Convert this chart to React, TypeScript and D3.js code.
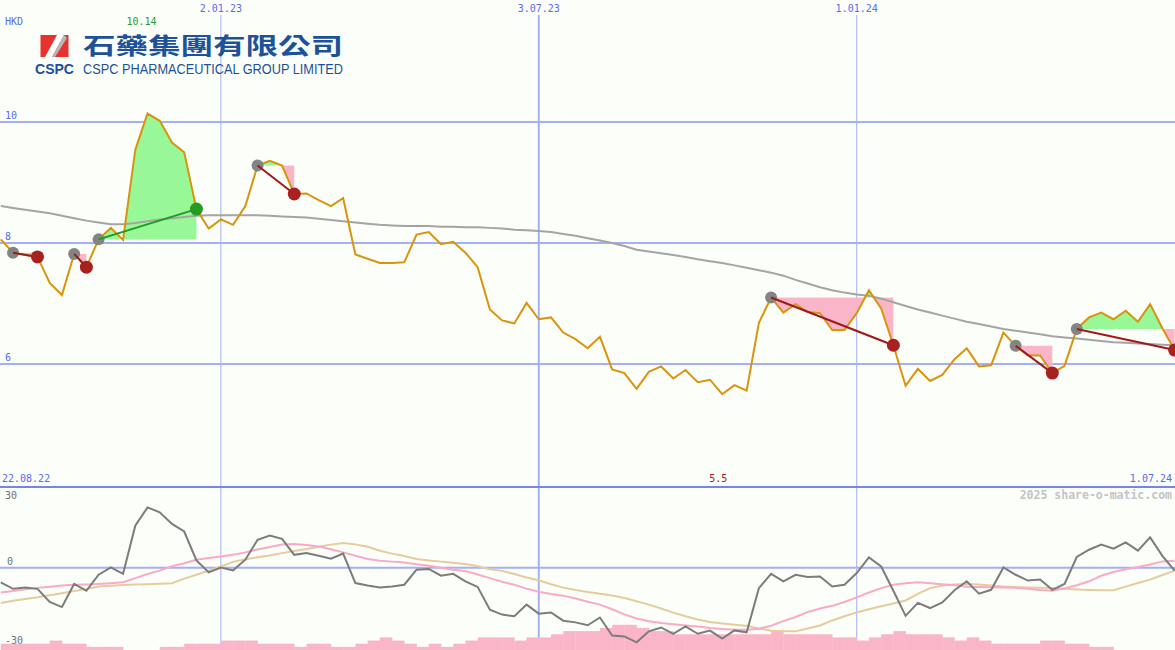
import * as d3 from "d3";

// weekly closes, HKD (29.08.22 .. 1.07.24)
const price = [
  8.06, 7.84, 7.8, 7.77, 7.34, 7.14, 7.82, 7.6, 8.06, 8.25,
  8.05, 9.54, 10.14, 10.02, 9.66, 9.5, 8.56, 8.24, 8.39, 8.3,
  8.61, 9.28, 9.36, 9.28, 8.81, 8.82, 8.71, 8.61, 8.74, 7.81,
  7.74, 7.67, 7.67, 7.68, 8.14, 8.18, 7.98, 8.02, 7.84, 7.6,
  6.9, 6.72, 6.67, 7.01, 6.74, 6.77, 6.52, 6.41, 6.26, 6.45,
  5.91, 5.85, 5.59, 5.87, 5.96, 5.76, 5.9, 5.7, 5.74, 5.5,
  5.65, 5.56, 6.68, 7.1, 6.85, 6.99, 6.86, 6.84, 6.56, 6.56,
  6.84, 7.22, 6.92, 6.31, 5.64, 5.92, 5.72, 5.82, 6.08, 6.26,
  5.96, 5.98, 6.52, 6.3, 6.14, 6.14, 5.85, 5.97, 6.58, 6.77,
  6.85, 6.74, 6.88, 6.7, 6.99, 6.59, 6.23,
];

const movingAvg = [
  8.61, 8.58, 8.55, 8.52, 8.49, 8.45, 8.41, 8.37, 8.34, 8.31,
  8.31, 8.33, 8.36, 8.39, 8.41, 8.43, 8.45, 8.46, 8.46, 8.46,
  8.46, 8.46, 8.45, 8.44, 8.43, 8.42, 8.4, 8.38, 8.36, 8.34,
  8.32, 8.3, 8.29, 8.28, 8.28, 8.28, 8.27, 8.27, 8.26, 8.26,
  8.25, 8.24, 8.22, 8.21, 8.2, 8.18, 8.15, 8.12, 8.08, 8.04,
  8.0, 7.95, 7.89, 7.86, 7.83, 7.8, 7.77, 7.73, 7.7, 7.67,
  7.63, 7.59, 7.55, 7.51, 7.46, 7.39, 7.33, 7.27, 7.22, 7.18,
  7.15, 7.13, 7.08, 7.02, 6.96, 6.9, 6.85, 6.8, 6.75, 6.7,
  6.66, 6.62, 6.58, 6.55, 6.52, 6.49, 6.46, 6.44, 6.42, 6.4,
  6.38, 6.36, 6.35, 6.34, 6.33, 6.32, 6.31,
];

const oscillator = [
  -6.0, -8.7, -8.2, -8.7, -14.1, -16.2, -6.7, -9.5, -2.9, 0.1,
  -2.5, 17.3, 24.8, 22.8, 18.0, 14.9, 3.0, -1.9, 0.1, -1.1,
  3.3, 11.5, 13.2, 11.9, 5.3, 6.0, 4.9, 3.7, 5.8, -6.3,
  -7.3, -8.1, -7.7, -7.0, -0.8, -0.5, -3.3, -2.5, -5.6, -7.9,
  -17.3, -19.3, -20.0, -15.2, -18.9, -18.4, -21.8, -22.5, -23.7, -20.5,
  -27.9, -28.3, -30.7, -26.2, -24.6, -27.2, -24.2, -27.2, -25.9, -29.2,
  -25.8, -26.6, -8.4, -2.5, -5.6, -2.9, -3.8, -3.6, -7.7, -7.0,
  -2.2, 4.2, 0.5, -9.5, -19.8, -14.5, -16.6, -14.3, -9.3, -5.6,
  -10.7, -9.1, 0.1, -2.9, -5.3, -4.9, -9.1, -6.7, 4.4, 7.4,
  9.5, 7.8, 10.4, 7.0, 12.5, 4.9, -1.2,
];

const signalFast = [
  -10.2, -9.6, -8.9, -8.3, -7.8, -7.3, -7.0, -6.9, -6.7, -6.4,
  -6.0, -4.3, -2.6, -1.2, 0.6, 1.8, 3.3, 4.0, 4.6, 5.3,
  6.3, 7.5, 8.5, 9.5, 9.8, 9.3, 8.7, 7.6, 6.3, 4.9,
  3.6, 2.9, 2.5, 2.1, 1.4, 0.8, 0.0, -0.8, -1.4, -2.8,
  -4.3, -5.8, -7.0, -8.6, -9.9, -10.8, -11.5, -12.7, -14.0, -15.2,
  -17.1, -19.2, -20.9, -22.0, -22.8, -23.3, -23.8, -24.2, -24.8, -25.2,
  -25.5, -25.5, -25.1, -23.9, -22.0, -20.3, -18.2, -16.8, -15.7, -14.1,
  -12.2, -10.2, -8.4, -7.0, -6.4, -6.0, -6.4, -6.8, -7.2, -7.8,
  -7.9, -8.0, -8.1, -8.3, -8.7, -9.2, -9.5, -8.5, -7.2, -5.6,
  -3.3, -1.8, -0.6, 0.3, 1.3, 2.6, 2.9,
];

const signalSlow = [
  -14.5, -13.6, -12.9, -12.2, -11.3, -10.5, -9.6, -8.8, -7.7, -7.4,
  -7.1, -6.9, -6.8, -6.6, -6.4, -4.5, -2.9, -1.2, 0.5, 2.4,
  3.5, 4.3, 5.0, 6.0, 6.9, 7.7, 8.6, 9.5, 10.2, 9.6,
  8.6, 7.0, 5.8, 4.8, 3.6, 3.0, 2.5, 2.0, 1.5, 0.6,
  -0.6, -1.3, -2.6, -4.0, -5.2, -6.8, -8.2, -9.2, -10.0, -10.7,
  -11.4, -12.5, -13.8, -15.2, -16.8, -18.5, -20.0, -21.3, -22.3, -23.0,
  -23.5, -23.9, -25.0, -25.9, -26.2, -26.2, -25.0, -23.8, -21.7, -20.0,
  -18.4, -17.1, -15.9, -14.7, -13.5, -10.8, -8.4, -7.3, -6.9, -6.7,
  -6.9, -7.3, -7.7, -7.9, -8.1, -8.3, -8.4, -8.7, -9.0, -9.2,
  -9.3, -9.3, -7.8, -6.3, -4.9, -3.0, -1.2,
];

const volumeLevel = [
  2, 2, 2, 2, 3, 2, 2, 1, 1, 1,
  0, 0, 0, 1, 1, 2, 2, 2, 3, 3,
  3, 2, 2, 2, 1, 2, 2, 1, 1, 2,
  3, 4, 3, 2, 1, 2, 1, 2, 3, 4,
  4, 4, 3, 4, 4, 5, 6, 6, 6, 7,
  8, 8, 7, 6, 6, 5, 5, 5, 5, 5,
  5, 5, 5, 6, 5, 5, 5, 5, 4, 4,
  3, 4, 5, 6, 5, 5, 5, 4, 3, 4,
  3, 2, 2, 2, 2, 3, 3, 2, 2, 1,
  1, 0, 0, 0, 0, 0, 0,
];

// signal trades: entry / exit week index
const tradeEntry = [1, 6, 8, 21, 63, 83, 88];
const tradeExit = [3, 7, 16, 24, 73, 86, 96];

const dateTickIdx = [18, 44, 70];
const dateTickLabels = ["2.01.23", "3.07.23", "1.01.24"];
const priceTicks = [10, 8, 6];
const oscTicks = [30, 0, -30];

const W = 1175;
const H = 650;
const mono = "'DejaVu Sans Mono', monospace";

export default function App() {
  const x = d3.scaleLinear().domain([0, price.length - 1]).range([0.8, 1174.6]);
  const yP = d3.scaleLinear().domain([6, 10]).range([364, 122]);
  const yO = d3.scaleLinear().domain([-30, 30]).range([640.6, 494.8]);
  const yB = d3.scaleLinear().domain([0, 8]).range([H, H - 25.2]);

  const priceLine = d3.line<number>().x((_, i) => x(i)).y((d) => yP(d));
  const oscLine = d3.line<number>().x((_, i) => x(i)).y((d) => yO(d));

  const maxI = d3.maxIndex(price);
  const minI = d3.minIndex(price);
  const step = x(1) - x(0);

  return (
    <svg width={W} height={H} style={{ position: "absolute", left: 0, top: 0, background: "#fcfefa" }}>
      <defs>
        {tradeEntry.map((e, k) => (
          <g key={k}>
            <clipPath id={"up" + k}>
              <rect x={0} y={0} width={W} height={yP(price[e])} />
            </clipPath>
            <clipPath id={"dn" + k}>
              <rect x={0} y={yP(price[e])} width={W} height={H} />
            </clipPath>
          </g>
        ))}
      </defs>
      <rect width={W} height={H} fill="#fcfefa" />

      {/* grid */}
      {priceTicks.map((t) => (
        <g key={t}>
          <line x1={0} x2={W} y1={yP(t)} y2={yP(t)} stroke="#a3b1f2" strokeWidth={2} />
          <text x={5} y={yP(t) - 3} fontFamily={mono} fontSize={10} fill="#5a6af0">{t}</text>
        </g>
      ))}
      {dateTickIdx.map((d, k) => (
        <g key={d}>
          <line x1={x(d)} x2={x(d)} y1={15} y2={H} stroke="#a3b1f2" strokeWidth={k === 1 ? 2 : 1} />
          <text x={x(d)} y={12} textAnchor="middle" fontFamily={mono} fontSize={10} fill="#5a6af0">
            {dateTickLabels[k]}
          </text>
        </g>
      ))}
      <line x1={0} x2={W} y1={yO(0)} y2={yO(0)} stroke="#a3b1f2" strokeWidth={2} />
      <line x1={0} x2={W} y1={487} y2={487} stroke="#7486ec" strokeWidth={2} />

      {/* trade fills */}
      {tradeEntry.map((e, k) => {
        const idx = d3.range(e, tradeExit[k] + 1);
        const area = d3
          .area<number>()
          .x((i) => x(i))
          .y0(yP(price[e]))
          .y1((i) => yP(price[i]));
        const d = area(idx) ?? "";
        return (
          <g key={k}>
            <path d={d} fill="#98f898" clipPath={`url(#up${k})`} />
            <path d={d} fill="#fbb5c9" clipPath={`url(#dn${k})`} />
          </g>
        );
      })}

      <path d={priceLine(movingAvg) ?? ""} fill="none" stroke="#a4a4a4" strokeWidth={2} />
      <path d={priceLine(price) ?? ""} fill="none" stroke="#d8940c" strokeWidth={2} />

      {tradeEntry.map((e, k) => {
        const xo = tradeExit[k];
        const win = price[xo] > price[e];
        return (
          <g key={k}>
            <circle cx={x(e)} cy={yP(price[e])} r={6} fill="#848484" />
            <line
              x1={x(e)} y1={yP(price[e])} x2={x(xo)} y2={yP(price[xo])}
              stroke={win ? "#229a22" : "#a01818"} strokeWidth={2}
            />
            <circle cx={x(xo)} cy={yP(price[xo])} r={6.5} fill={win ? "#249c24" : "#a82020"} />
          </g>
        );
      })}

      {/* labels */}
      <text x={5} y={25} fontFamily={mono} fontSize={10} fill="#5a6af0">HKD</text>
      <text x={x(maxI) - 6} y={25} textAnchor="middle" fontFamily={mono} fontSize={10} fill="#2a9a2a">
        {price[maxI].toFixed(2)}
      </text>
      <text x={x(minI) - 4} y={482} textAnchor="middle" fontFamily={mono} fontSize={10} fill="#a01c1c">
        {price[minI].toFixed(1)}
      </text>
      <text x={2} y={482} fontFamily={mono} fontSize={10} fill="#5a6af0">22.08.22</text>
      <text x={1172} y={482} textAnchor="end" fontFamily={mono} fontSize={10} fill="#5a6af0">1.07.24</text>

      {/* logo */}
      <rect x={40.5} y={35} width={28} height={22} fill="#e8322e" />
      <polygon points="45,57 52,57 64,35 57,35" fill="#ffffff" />
      <polygon points="52,57 55,57 67,38 64,35" fill="#b8b8b8" />
      <text x={35} y={74} fontFamily="'Liberation Sans', Arial, sans-serif" fontWeight="bold" fontSize={15}
        fill="#1d4f9c" textLength={39} lengthAdjust="spacingAndGlyphs">CSPC</text>
      <text x={83} y={54} fontFamily="'Noto Sans CJK TC', 'Noto Sans CJK SC', sans-serif" fontWeight="bold" fontSize={23}
        fill="#1d5298" textLength={260} lengthAdjust="spacingAndGlyphs">石藥集團有限公司</text>
      <text x={83} y={74} fontFamily="'Liberation Sans', Arial, sans-serif" fontSize={15}
        fill="#1d5298" textLength={260} lengthAdjust="spacingAndGlyphs">CSPC PHARMACEUTICAL GROUP LIMITED</text>

      {/* lower panel */}
      {oscTicks.map((t) => (
        <text key={t} x={t === 0 ? 7 : 5} y={yO(t) + (t === 30 ? 4 : t === 0 ? -3 : 3)}
          fontFamily={mono} fontSize={10} fill="#707070">{t}</text>
      ))}
      <text x={1172} y={499} textAnchor="end" fontFamily={mono} fontWeight="bold" fontSize={11.5} fill="#c4c4c4">
        2025 share-o-matic.com
      </text>

      {volumeLevel.map((v, i) =>
        v > 0 ? (
          <rect key={i} x={x(i)} y={yB(v)} width={step + 0.3} height={H - yB(v)} fill="#fbb5c9" />
        ) : null
      )}
      <path d={oscLine(signalSlow) ?? ""} fill="none" stroke="#e4cc9c" strokeWidth={2} />
      <path d={oscLine(signalFast) ?? ""} fill="none" stroke="#f9aac4" strokeWidth={2} />
      <path d={oscLine(oscillator) ?? ""} fill="none" stroke="#7c7c7c" strokeWidth={2} />
    </svg>
  );
}
